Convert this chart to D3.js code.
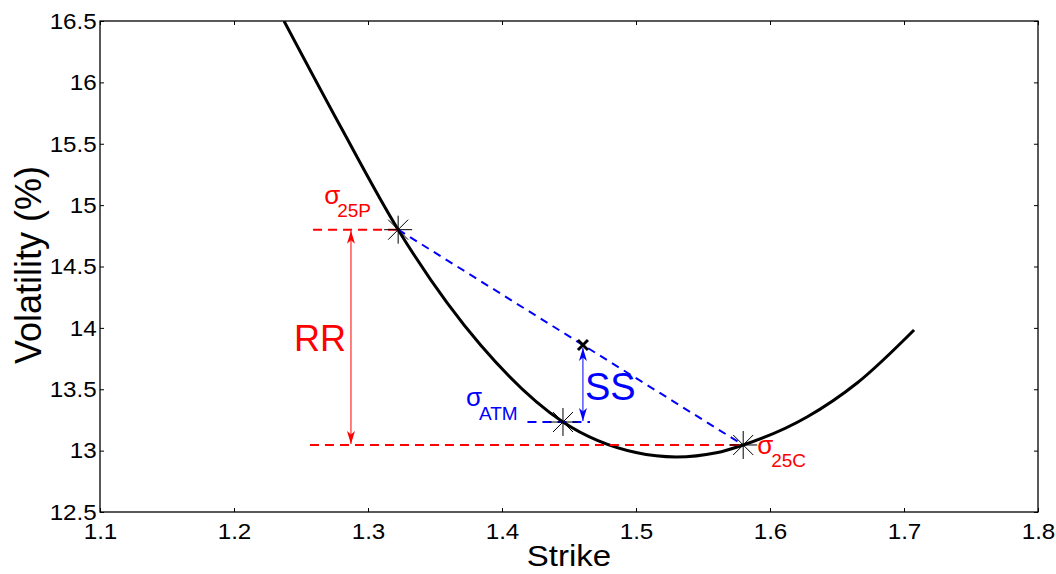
<!DOCTYPE html>
<html>
<head>
<meta charset="utf-8">
<script src="https://cdn.jsdelivr.net/npm/d3@7"></script>
<style>
  body { margin: 0; background: #fff; }
  text { font-family: "Liberation Sans", Arial, sans-serif; }
</style>
</head>
<body>
<svg id="smile" width="1056" height="574"></svg>
<script>
// smile curve
var strikes = [1.2373, 1.28, 1.3225, 1.384, 1.4455, 1.50, 1.53, 1.56, 1.58, 1.6276, 1.665, 1.7075];
var vols    = [16.50, 15.63, 14.80, 13.86, 13.233, 12.984, 12.948, 12.982, 13.046, 13.274, 13.551, 13.983];

// quoted points: 25 delta put, ATM, 25 delta call
var quoteStrikes = [1.3225, 1.4455, 1.58];
var quoteVols    = [14.80, 13.233, 13.046];

// strangle point on the put/call chord
var ssStrike = 1.4604, ssVol = 13.86;
var rrStrike = 1.2873;
var rrStarts = [1.259, 1.2567];
var atmDash  = [1.419, 1.4657];

var xTicks = [1.1, 1.2, 1.3, 1.4, 1.5, 1.6, 1.7, 1.8];
var yTicks = [12.5, 13, 13.5, 14, 14.5, 15, 15.5, 16, 16.5];

var svg = d3.select("#smile"),
    margin = {top: 21, right: 18, bottom: 62, left: 100},
    width = +svg.attr("width") - margin.left - margin.right,
    height = +svg.attr("height") - margin.top - margin.bottom,
    g = svg.append("g").attr("transform", "translate(" + margin.left + "," + margin.top + ")");

var x = d3.scaleLinear().domain([1.1, 1.8]).range([0, width]);
var y = d3.scaleLinear().domain([12.5, 16.5]).range([height, 0]);

var defs = svg.append("defs");
defs.append("clipPath").attr("id", "plotclip")
  .append("rect").attr("width", width).attr("height", height);

function arrowHead(id, color) {
  defs.append("marker")
      .attr("id", id)
      .attr("viewBox", "0 0 13 9")
      .attr("refX", 13)
      .attr("refY", 4.5)
      .attr("markerUnits", "userSpaceOnUse")
      .attr("markerWidth", 13)
      .attr("markerHeight", 9)
      .attr("orient", "auto-start-reverse")
    .append("path")
      .attr("d", "M0,0.5L13,4.5L0,8.5L3.5,4.5Z")
      .attr("fill", color);
}
arrowHead("arrRed", "red");
arrowHead("arrBlue", "blue");

// ticks (inside, on all four sides)
var fmtX = d3.format(".1f");
g.append("g")
    .attr("transform", "translate(0," + height + ")")
    .call(d3.axisBottom(x).tickValues(xTicks).tickSize(-4).tickFormat(fmtX))
    .call(function(a) {
      a.select(".domain").remove();
      a.selectAll("text").attr("y", 27).attr("dy", null)
        .attr("transform", "scale(1.1,1)")
        .style("font-size", "22px").attr("fill", "#000");
    });
g.append("g")
    .call(d3.axisTop(x).tickValues(xTicks).tickSize(-4).tickFormat(""))
    .call(function(a) { a.select(".domain").remove(); });
g.append("g")
    .call(d3.axisLeft(y).tickValues(yTicks).tickSize(-4).tickFormat(function(d) { return String(d); }))
    .call(function(a) {
      a.select(".domain").remove();
      a.selectAll("text").attr("x", -3).attr("dy", "0.33em")
        .attr("transform", "scale(1.1,1)")
        .style("font-size", "22px").attr("fill", "#000");
    });
g.append("g")
    .attr("transform", "translate(" + width + ",0)")
    .call(d3.axisRight(y).tickValues(yTicks).tickSize(-4).tickFormat(""))
    .call(function(a) { a.select(".domain").remove(); });

g.append("rect")
    .attr("width", width)
    .attr("height", height)
    .attr("fill", "none")
    .attr("stroke", "#000")
    .attr("stroke-width", 1.3);

// axis labels
svg.append("text")
    .attr("transform", "translate(569,566) scale(1.1,1)")
    .attr("text-anchor", "middle")
    .style("font-size", "30px")
    .text("Strike");
svg.append("text")
    .attr("transform", "translate(41,265) rotate(-90)")
    .attr("text-anchor", "middle")
    .style("font-size", "36px")
    .text("Volatility (%)");

// smile
var line = d3.line()
    .x(function(d) { return x(d[0]); })
    .y(function(d) { return y(d[1]); })
    .curve(d3.curveMonotoneX);

g.append("path")
    .datum(d3.zip(strikes, vols))
    .attr("clip-path", "url(#plotclip)")
    .attr("fill", "none")
    .attr("stroke", "#000")
    .attr("stroke-width", 3)
    .attr("stroke-linejoin", "round")
    .attr("d", line);

// risk reversal levels
[0, 2].forEach(function(i, k) {
  g.append("line")
      .attr("x1", x(rrStarts[k]))
      .attr("x2", x(quoteStrikes[i]))
      .attr("y1", y(quoteVols[i]))
      .attr("y2", y(quoteVols[i]))
      .attr("stroke", "red")
      .attr("stroke-width", 2)
      .attr("stroke-dasharray", "9,6");
});

g.append("line")
    .attr("x1", x(rrStrike)).attr("x2", x(rrStrike))
    .attr("y1", y(quoteVols[0]) + 1).attr("y2", y(quoteVols[2]) - 1)
    .attr("stroke", "red")
    .attr("stroke-width", 1)
    .attr("marker-start", "url(#arrRed)")
    .attr("marker-end", "url(#arrRed)");

// chord put -> call and ATM level
g.append("line")
    .attr("x1", x(quoteStrikes[0])).attr("y1", y(quoteVols[0]))
    .attr("x2", x(quoteStrikes[2])).attr("y2", y(quoteVols[2]))
    .attr("stroke", "blue")
    .attr("stroke-width", 2)
    .attr("stroke-dasharray", "8,6");

g.append("line")
    .attr("x1", x(atmDash[0])).attr("x2", x(atmDash[1]))
    .attr("y1", y(quoteVols[1])).attr("y2", y(quoteVols[1]))
    .attr("stroke", "blue")
    .attr("stroke-width", 2)
    .attr("stroke-dasharray", "9,6");

g.append("line")
    .attr("x1", x(ssStrike)).attr("x2", x(ssStrike))
    .attr("y1", y(quoteVols[1]) - 1).attr("y2", y(ssVol) + 3)
    .attr("stroke", "blue")
    .attr("stroke-width", 1)
    .attr("marker-start", "url(#arrBlue)")
    .attr("marker-end", "url(#arrBlue)");

// asterisk markers
var star = "M-14,0L14,0M0,-14L0,14M-10,-10L10,10M-10,10L10,-10";
g.selectAll(".star")
    .data(d3.zip(quoteStrikes, quoteVols))
  .enter().append("path")
    .attr("class", "star")
    .attr("transform", function(d) { return "translate(" + x(d[0]) + "," + y(d[1]) + ")"; })
    .attr("d", star)
    .attr("fill", "none")
    .attr("stroke", "#000")
    .attr("stroke-width", 1);

g.append("path")
    .attr("transform", "translate(" + x(ssStrike) + "," + y(ssVol) + ")")
    .attr("d", "M-5,-5L5,5M-5,5L5,-5")
    .attr("stroke", "#000")
    .attr("stroke-width", 3);

// labels
function sigma(color, sx, sy, sub, bx, by) {
  var t = g.append("g").attr("fill", color);
  t.append("text")
      .attr("x", sx).attr("y", sy)
      .style("font-size", "26px")
      .text("\u03c3");
  t.append("text")
      .attr("x", bx).attr("y", by)
      .style("font-size", "19px")
      .text(sub);
}
sigma("red",  x(quoteStrikes[0]) - 74, y(quoteVols[0]) - 26, "25P",
      x(quoteStrikes[0]) - 61, y(quoteVols[0]) - 13);
sigma("blue", x(quoteStrikes[1]) - 97, y(quoteVols[1]) - 16, "ATM",
      x(quoteStrikes[1]) - 84, y(quoteVols[1]) - 2);
sigma("red",  x(quoteStrikes[2]) + 14, y(quoteVols[2]) + 9, "25C",
      x(quoteStrikes[2]) + 28, y(quoteVols[2]) + 22);

g.append("text")
    .attr("x", x(rrStrike) - 31)
    .attr("y", y((quoteVols[0] + quoteVols[2]) / 2) + 14)
    .attr("text-anchor", "middle")
    .attr("fill", "red")
    .style("font-size", "36px")
    .text("RR");

g.append("text")
    .attr("x", x(ssStrike) + 2)
    .attr("y", y((quoteVols[1] + ssVol) / 2) + 16)
    .attr("fill", "blue")
    .style("font-size", "38px")
    .text("SS");
</script>
</body>
</html>
